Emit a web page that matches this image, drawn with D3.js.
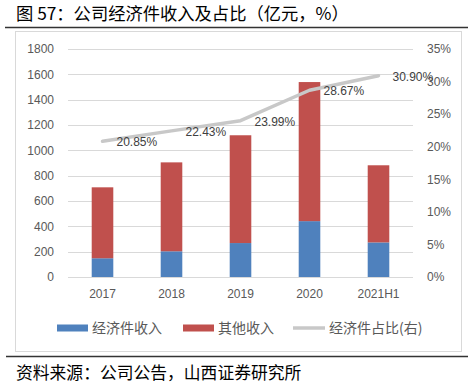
<!DOCTYPE html>
<html>
<head>
<meta charset="utf-8">
<script src="https://cdn.jsdelivr.net/npm/d3@7"></script>
<style>
  body { margin: 0; background: #fff; }
  svg { display: block; }
</style>
</head>
<body>
<div id="chart"></div>
<script>
// Data
var years = ["2017", "2018", "2019", "2020", "2021H1"];
var econIncome = [148, 203, 268, 441, 273];     // 经济件收入 (亿元)
var otherIncome = [560, 702, 851, 1098, 609];   // 其他收入 (亿元)
var econShare = [20.85, 22.43, 23.99, 28.67, 30.90]; // 经济件占比 (%)
var leftTicks = [0, 200, 400, 600, 800, 1000, 1200, 1400, 1600, 1800];
var rightTicks = [0, 5, 10, 15, 20, 25, 30, 35];

var svgWidth = 469;
var svgHeight = 384;

var plot = { left: 68, right: 413, top: 49, bottom: 277 };

var svg = d3.select("#chart")
  .append("svg")
  .attr("width", svgWidth)
  .attr("height", svgHeight);

var cjk = "'Noto Sans CJK SC', 'Liberation Sans', sans-serif";
var latin = "'Liberation Sans', 'Noto Sans CJK SC', sans-serif";

// Title and rules
svg.append("text")
  .attr("x", 16).attr("y", 20)
  .attr("font-family", cjk).attr("font-size", 17.3)
  .attr("fill", "#000")
  .text("图 57：公司经济件收入及占比（亿元，%）");

svg.append("line")
  .attr("x1", 5).attr("x2", 468).attr("y1", 27.5).attr("y2", 27.5)
  .attr("stroke", "#333").attr("stroke-width", 1.3);

// chart frame
svg.append("rect")
  .attr("x", 15.5).attr("y", 31.5).attr("width", 446).attr("height", 320)
  .attr("fill", "#fff").attr("stroke", "#d9d9d9");

svg.append("line")
  .attr("x1", 6).attr("x2", 468).attr("y1", 356.5).attr("y2", 356.5)
  .attr("stroke", "#333").attr("stroke-width", 1.3);

svg.append("text")
  .attr("x", 16).attr("y", 379)
  .attr("font-family", cjk).attr("font-size", 16.8)
  .attr("fill", "#000")
  .text("资料来源：公司公告，山西证券研究所");

// Scales
var x = d3.scaleBand().domain(years).range([plot.left, plot.right]).paddingInner(0.687).paddingOuter(0.3435);
var yLeft = d3.scaleLinear().domain([0, 1800]).range([plot.bottom, plot.top]);
var yRight = d3.scaleLinear().domain([0, 35]).range([plot.bottom, plot.top]);

// Gridlines
svg.append("g")
  .selectAll("line")
  .data(leftTicks)
  .join("line")
  .attr("x1", plot.left).attr("x2", plot.right)
  .attr("y1", d => Math.round(yLeft(d)) + 0.5)
  .attr("y2", d => Math.round(yLeft(d)) + 0.5)
  .attr("stroke", "#d9d9d9").attr("stroke-width", 1);

// Left axis
var leftAxis = svg.append("g")
  .attr("transform", `translate(${plot.left - 14},0)`)
  .call(d3.axisLeft(yLeft).tickValues(leftTicks).tickSize(0).tickPadding(0)
    .tickFormat(d3.format("d")));
leftAxis.select(".domain").remove();
leftAxis.selectAll("text")
  .attr("font-family", latin).attr("font-size", 12).attr("fill", "#595959");

// Right axis
var rightAxis = svg.append("g")
  .attr("transform", `translate(${plot.right + 14},0)`)
  .call(d3.axisRight(yRight).tickValues(rightTicks).tickSize(0).tickPadding(0)
    .tickFormat(d => d + "%"));
rightAxis.select(".domain").remove();
rightAxis.selectAll("text")
  .attr("font-family", latin).attr("font-size", 12).attr("fill", "#595959");

// Bottom axis labels
var bottomAxis = svg.append("g")
  .attr("transform", `translate(0,${plot.bottom + 12})`)
  .call(d3.axisBottom(x).tickSize(0).tickPadding(0));
bottomAxis.select(".domain").remove();
bottomAxis.selectAll("text")
  .attr("font-family", latin).attr("font-size", 12).attr("fill", "#595959");

// Stacked bars
var stackData = years.map((y, i) => ({ year: y, econ: econIncome[i], other: otherIncome[i] }));
var series = d3.stack().keys(["econ", "other"])(stackData);
var colors = { econ: "#4f81bd", other: "#c0504d" };

svg.append("g")
  .selectAll("g")
  .data(series)
  .join("g")
  .attr("fill", d => colors[d.key])
  .selectAll("rect")
  .data(d => d)
  .join("rect")
  .attr("x", d => x(d.data.year))
  .attr("width", x.bandwidth())
  .attr("y", d => yLeft(d[1]))
  .attr("height", d => yLeft(d[0]) - yLeft(d[1]));

// Share line
var line = d3.line()
  .x((d, i) => x(years[i]) + x.bandwidth() / 2)
  .y(d => yRight(d));

svg.append("path")
  .datum(econShare)
  .attr("d", line)
  .attr("fill", "none")
  .attr("stroke", "#c8c8c8")
  .attr("stroke-width", 3.5)
  .attr("stroke-linejoin", "round")
  .attr("stroke-linecap", "round");

svg.append("g")
  .selectAll("text")
  .data(econShare)
  .join("text")
  .attr("x", (d, i) => x(years[i]) + x.bandwidth() / 2 + 14)
  .attr("y", d => yRight(d) + 5)
  .attr("font-family", latin).attr("font-size", 12)
  .attr("fill", "#404040")
  .text(d => d.toFixed(2) + "%");

// Legend
var legendItems = [
  { label: "经济件收入", type: "rect", color: colors.econ, x: 57 },
  { label: "其他收入", type: "rect", color: colors.other, x: 183 },
  { label: "经济件占比(右)", type: "line", color: "#c8c8c8", x: 293 }
];
var legendY = 328;
var legend = svg.append("g")
  .selectAll("g")
  .data(legendItems)
  .join("g")
  .attr("transform", d => `translate(${d.x},${legendY})`);

legend.filter(d => d.type === "rect")
  .append("rect")
  .attr("x", 0).attr("y", -3.5).attr("width", 31).attr("height", 7)
  .attr("fill", d => d.color);

legend.filter(d => d.type === "line")
  .append("line")
  .attr("x1", 0).attr("x2", 32).attr("y1", 0).attr("y2", 0)
  .attr("stroke", d => d.color).attr("stroke-width", 3.5);

legend.append("text")
  .attr("x", d => d.type === "line" ? 36 : 35)
  .attr("y", 5)
  .attr("font-family", cjk).attr("font-size", 14)
  .attr("fill", "#595959")
  .text(d => d.label);
</script>
</body>
</html>
